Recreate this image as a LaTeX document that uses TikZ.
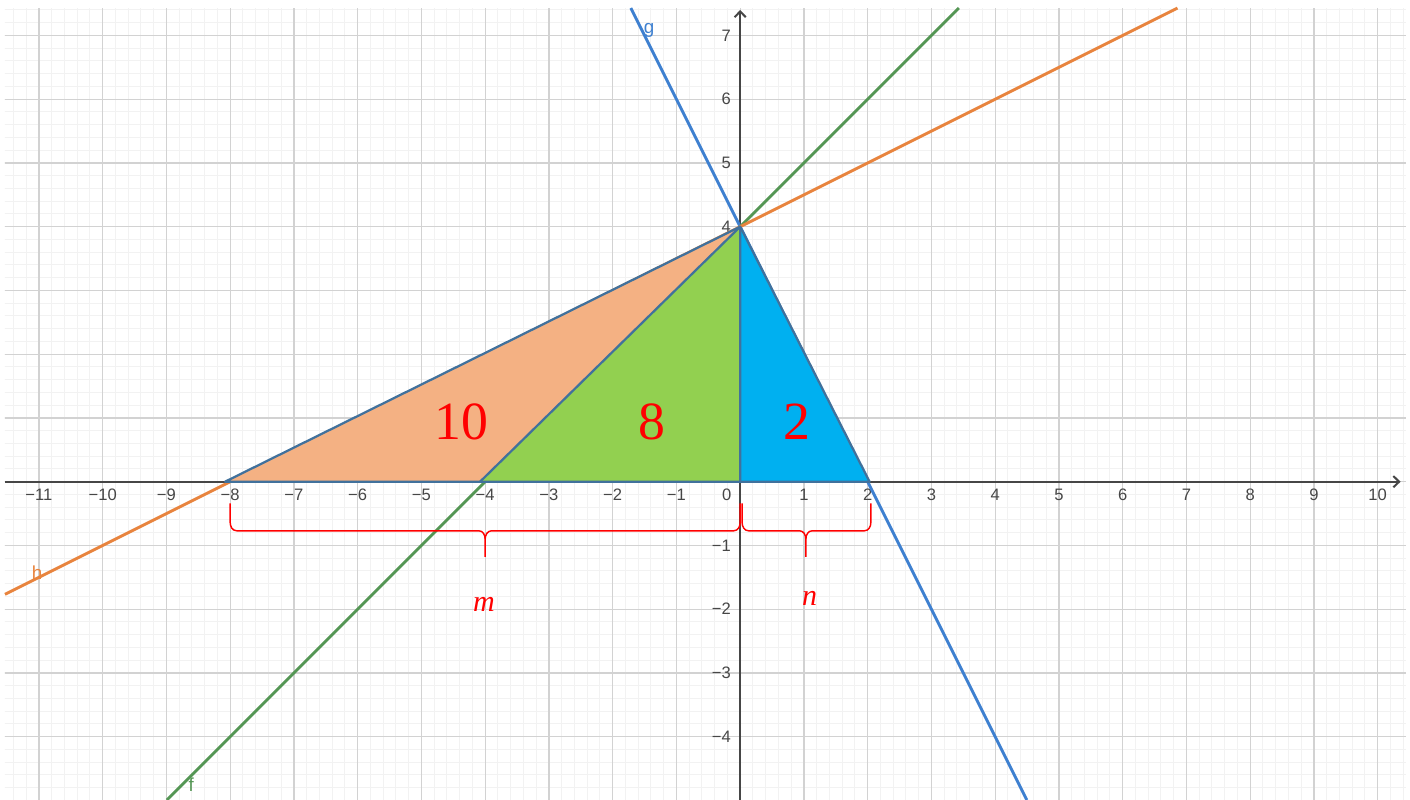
\documentclass[tikz,border=0pt]{standalone}
\usepackage{fontspec}
\setmainfont{Liberation Serif}
\newfontfamily\axfont{Liberation Sans}
\usetikzlibrary{arrows.meta}
\definecolor{gridmajor}{RGB}{210,210,210}
\definecolor{gridminor}{RGB}{242,242,242}
\definecolor{axiscol}{RGB}{70,70,70}
\definecolor{gcol}{RGB}{62,128,208}
\definecolor{fcol}{RGB}{84,150,84}
\definecolor{hcol}{RGB}{232,132,62}
\definecolor{edgecol}{RGB}{65,113,156}
\definecolor{fillo}{RGB}{244,177,131}
\definecolor{fillg}{RGB}{146,208,80}
\definecolor{fillb}{RGB}{0,176,240}
\tikzset{
  axlabel/.style={font=\axfont\fontsize{7.4}{9}\selectfont, text=axiscol, inner sep=0pt},
  axisline/.style={axiscol, line width=0.9pt, -{Straight Barb[length=2.6pt,width=5pt]}},
  graphline/.style={line width=1.3pt},
  linelabel/.style={font=\axfont\fontsize{8.4}{10}\selectfont, inner sep=0pt},
  tri/.style={draw=edgecol, line width=1pt, line join=round},
  area/.style={font=\fontsize{24}{28}\selectfont, text=red, inner sep=0pt},
  bracelabel/.style={font=\itshape\fontsize{13.4}{16}\selectfont, text=red, inner sep=0pt},
  bracestyle/.style={red, line width=0.65pt, line join=round}
}
\begin{document}
\begin{tikzpicture}[x=1cm,y=1cm]
\useasboundingbox (-11.611,-4.993) rectangle (10.507,7.556);
% grid
\begin{scope}
  \clip (-11.533,-4.993) rectangle (10.444,7.43);
  \draw[gridminor, line width=0.45pt, step=0.2] (-12,-6) grid (11,8);
  \draw[gridmajor, line width=0.6pt, step=1] (-12,-6) grid (11,8);
\end{scope}
% axes
\coordinate (xa0) at (-11.533,0);
\coordinate (xa1) at (10.36,0);
\coordinate (ya0) at (0,-4.993);
\coordinate (ya1) at (0,7.40);
\draw[axisline] (xa0) -- (xa1);
\draw[axisline] (ya0) -- (ya1);
% x labels
\foreach \v in {1,...,11} {
  \node[axlabel] (xl-\v) at (-\v,-0.21) {−\v};
}
\foreach \v in {1,...,10} {
  \node[axlabel] (xp-\v) at (\v,-0.21) {\v};
}
\node[axlabel] (x0) at (-0.21,-0.21) {0};
% y labels
\foreach \v in {4,...,7} {
  \node[axlabel, anchor=east] (yp-\v) at (-0.14,\v) {\v};
}
\foreach \v in {1,...,4} {
  \node[axlabel, anchor=east] (yn-\v) at (-0.14,-\v) {−\v};
}
% lines
\coordinate (g0) at (-1.715,7.43);
\coordinate (g1) at (4.4965,-4.993);
\coordinate (f0) at (3.43,7.43);
\coordinate (f1) at (-8.993,-4.993);
\coordinate (h0) at (6.86,7.43);
\coordinate (h1) at (-11.533,-1.7665);
\draw[graphline, gcol] (g0) -- (g1);
\draw[graphline, fcol] (f0) -- (f1);
\draw[graphline, hcol] (h0) -- (h1);
\node[linelabel, text=gcol] (gl) at (-1.43,7.08) {g};
\node[linelabel, text=fcol] (fl) at (-8.61,-4.76) {f};
\node[linelabel, text=hcol] (hl) at (-11.03,-1.43) {h};
% triangles
\coordinate (A) at (-8.08,0);
\coordinate (B) at (-4.08,0);
\coordinate (O) at (0,0);
\coordinate (C) at (2.03,0);
\coordinate (T) at (0,4);
\fill[fillo] (A) -- (T) -- (B) -- cycle;
\fill[fillg] (B) -- (T) -- (O) -- cycle;
\fill[fillb] (O) -- (T) -- (C) -- cycle;
\draw[tri] (A) -- (T) -- (C) -- cycle;
\draw[tri] (B) -- (T) -- (O);
% area labels
\node[area] (a10) at (-4.37,0.94) {10};
\node[area] (a8) at (-1.38,0.94) {8};
\node[area] (a2) at (0.89,0.94) {2};
% braces
\coordinate (mL) at (-8,-0.34);
\coordinate (mR) at (0,-0.34);
\coordinate (mT) at (-4,-1.18);
\coordinate (nL) at (0.03,-0.34);
\coordinate (nR) at (2.05,-0.34);
\coordinate (nT) at (1.03,-1.18);
\draw[bracestyle] (mL) -- ++(0,-0.3) to[out=-90,in=180] (-7.9,-0.77) -- (-4.1,-0.77)
  to[out=0,in=90] (-4,-0.9) -- (mT);
\draw[bracestyle] (-4,-0.9) to[out=90,in=180] (-3.9,-0.77) -- (-0.1,-0.77)
  to[out=0,in=-90] (0,-0.64) -- (mR);
\draw[bracestyle] (nL) -- ++(0,-0.3) to[out=-90,in=180] (0.13,-0.77) -- (0.93,-0.77)
  to[out=0,in=90] (1.03,-0.9) -- (nT);
\draw[bracestyle] (1.03,-0.9) to[out=90,in=180] (1.13,-0.77) -- (1.95,-0.77)
  to[out=0,in=-90] (2.05,-0.64) -- (nR);
\node[bracelabel] (ml) at (-4.02,-1.93) {m};
\node[bracelabel] (nl) at (1.09,-1.83) {n};
\end{tikzpicture}
\end{document}
